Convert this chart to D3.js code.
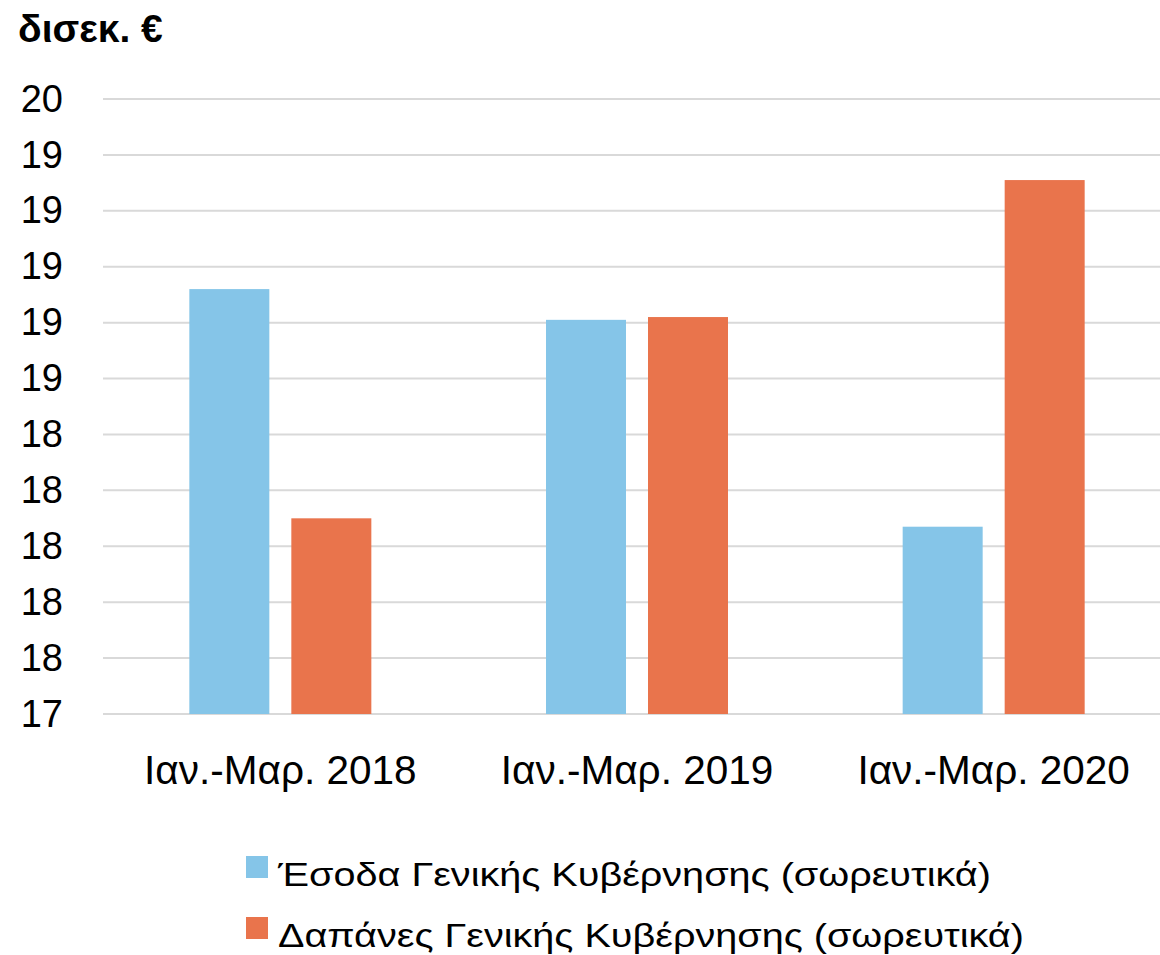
<!DOCTYPE html>
<html>
<head>
<meta charset="utf-8">
<title>Έσοδα - Δαπάνες</title>
<script src="https://d3js.org/d3.v7.min.js"></script>
<style>
    body{
        margin:0;
        background:#fff;
        font-family:"Liberation Sans", Arial, sans-serif;
    }
</style>
</head>
<body>
<div id="chart"></div>
<script>
    // data (δισεκ. €)
    var categories = ["Ιαν.-Μαρ. 2018", "Ιαν.-Μαρ. 2019", "Ιαν.-Μαρ. 2020"]
    var revenue = [18.92, 18.81, 18.07]
    var spending = [18.10, 18.82, 19.31]
    var seriesNames = ["Έσοδα Γενικής Κυβέρνησης (σωρευτικά)", "Δαπάνες Γενικής Κυβέρνησης (σωρευτικά)"]
    var colors = ["#85C5E8", "#E9744C"]
    var yTicks = [17.4, 17.6, 17.8, 18.0, 18.2, 18.4, 18.6, 18.8, 19.0, 19.2, 19.4, 19.6]

    var w = 1160
    var h = 955

    var svg = d3.select("#chart").append("svg")
        .attr("width", w)
        .attr("height", h)

    var yScale = d3.scaleLinear().domain([17.4, 19.6]).range([714, 99])
    var xScale = d3.scaleBand().domain(categories).range([102, 1172])
    var barW = 80
    var gap = 22

    // gridlines
    svg.append("g").selectAll("line")
        .data(yTicks)
        .enter()
        .append("line")
        .attr("x1", 103)
        .attr("x2", w)
        .attr("y1", function(d){ return yScale(d) })
        .attr("y2", function(d){ return yScale(d) })
        .attr("stroke", "#d9d9d9")
        .attr("stroke-width", 2)

    // y axis labels (rounded to integers, as in the original)
    var yAxis = d3.axisLeft(yScale)
        .tickValues(yTicks)
        .tickFormat(d3.format(".0f"))
        .tickSize(0)
        .tickPadding(0)

    svg.append("g")
        .attr("class", "y axis")
        .attr("transform", "translate(63,0)")
        .call(yAxis)
        .call(function(g){ g.select(".domain").remove() })
        .selectAll("text")
        .attr("font-family", "Liberation Sans, Arial, sans-serif")
        .attr("font-size", 38)
        .attr("fill", "#000")

    // bars
    var rows = categories.map(function(c, i){ return {cat: c, vals: [revenue[i], spending[i]]} })

    var groups = svg.selectAll(".grp")
        .data(rows)
        .enter()
        .append("g")
        .attr("class", "grp")
        .attr("transform", function(d){ return "translate(" + (xScale(d.cat) + xScale.bandwidth()/2) + ",0)" })

    groups.selectAll("rect")
        .data(function(d){ return d.vals })
        .enter()
        .append("rect")
        .attr("x", function(d, i){ return i == 0 ? -(barW + gap/2) : gap/2 })
        .attr("y", function(d){ return yScale(d) })
        .attr("width", barW)
        .attr("height", function(d){ return yScale(17.4) - yScale(d) })
        .attr("fill", function(d, i){ return colors[i] })

    // category labels
    var xAxis = d3.axisBottom(xScale).tickSize(0).tickPadding(0)
    svg.append("g")
        .attr("class", "x axis")
        .attr("transform", "translate(0,755)")
        .call(xAxis)
        .call(function(g){ g.select(".domain").remove() })
        .selectAll("text")
        .attr("font-family", "Liberation Sans, Arial, sans-serif")
        .attr("font-size", 40.5)
        .attr("fill", "#000")

    // unit title
    svg.append("text").text("δισεκ. €")
        .attr("x", 18)
        .attr("y", 42)
        .attr("font-weight", "bold")
        .attr("font-size", 39)
        .attr("fill", "#000")

    // legend
    var legend = svg.selectAll(".legend")
        .data(seriesNames)
        .enter()
        .append("g")
        .attr("class", "legend")
        .attr("transform", function(d, i){ return "translate(246," + (856 + i*61) + ")" })

    legend.append("rect")
        .attr("width", 22)
        .attr("height", 22)
        .attr("fill", function(d, i){ return colors[i] })

    // legend text in the original is a wide face; stretch a little to match
    legend.append("text")
        .text(function(d){ return d })
        .attr("transform", "translate(32,30) scale(1.2,1)")
        .attr("font-size", 33)
        .attr("fill", "#000")
</script>
</body>
</html>
